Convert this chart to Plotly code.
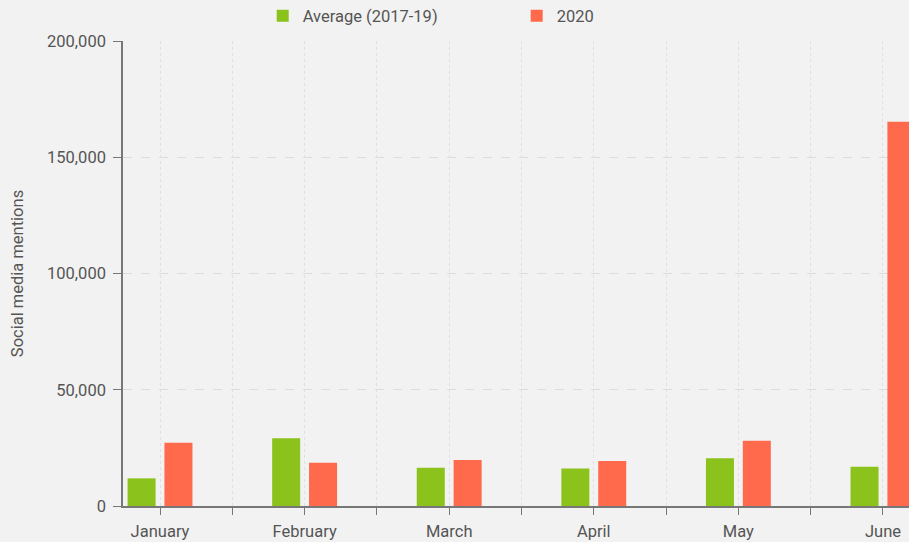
import numpy as np
import plotly.graph_objects as go

months = ["January", "February", "March", "April", "May", "June"]
avg_2017_19 = [11900, 29100, 16400, 16100, 20500, 16900]
y2020 = [27200, 18600, 19800, 19400, 28100, 165300]
y_ticks = [0, 50000, 100000, 150000, 200000]

GREEN = "#8cc21c"
RED = "#ff6a4d"
FONT = "Roboto, Arial, sans-serif"
TXT = "#555555"
FS = 16.5

pos = np.arange(len(months))

fig = go.Figure()
fig.add_bar(x=pos, y=avg_2017_19, name="Average (2017-19)", marker_color=GREEN,
            marker_line_width=0)
fig.add_bar(x=pos, y=y2020, name="2020", marker_color=RED, marker_line_width=0)

fig.update_layout(
    width=909, height=542,
    margin=dict(l=123, r=0, t=41, b=36, autoexpand=False),
    paper_bgcolor="#f2f2f2", plot_bgcolor="#f2f2f2",
    barmode="group", bargap=0.49, bargroupgap=0.24,
    font=dict(family=FONT, size=FS, color=TXT),
    showlegend=True,
    legend=dict(orientation="h", xref="container", yref="container",
                x=0.289, y=0.9705, xanchor="left", yanchor="middle",
                entrywidth=209, entrywidthmode="pixels",
                font=dict(size=FS, color=TXT), bgcolor="rgba(0,0,0,0)"),
)

fig.update_xaxes(
    range=[-0.256, 5.18],
    tickmode="array", tickvals=pos, ticktext=months,
    ticks="outside", ticklen=7, tickcolor="#777777", tickwidth=1,
    ticklabelstandoff=2,
    showline=True, linecolor="#777777", linewidth=1.5,
    showgrid=True, gridcolor="#e0e0e0", griddash="dot", gridwidth=1,
    minor=dict(tick0=0.5, dtick=1, ticks="outside", ticklen=7,
               tickcolor="#777777", showgrid=True, gridcolor="#e0e0e0",
               griddash="dot"),
    zeroline=False, automargin=False,
    tickfont=dict(size=FS, color=TXT),
)

fig.update_yaxes(
    range=[0, 200000],
    tickmode="array", tickvals=y_ticks,
    ticktext=[f"{v:,}" for v in y_ticks],
    ticks="outside", ticklen=8, tickcolor="#777777",
    ticklabelstandoff=4,
    showline=True, linecolor="#777777", linewidth=1.5,
    showgrid=True, gridcolor="#dcdcdc", griddash="dash", gridwidth=1,
    zeroline=False, automargin=False,
    tickfont=dict(size=FS, color=TXT),
    title=dict(text="Social media mentions", font=dict(size=16.5, color=TXT),
               standoff=19),
)

fig.write_html("out.html")
